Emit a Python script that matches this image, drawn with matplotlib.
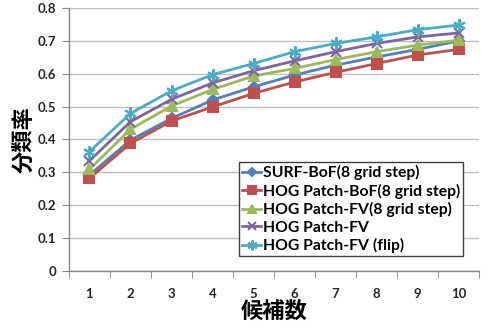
import matplotlib
matplotlib.use("Agg")
import matplotlib.pyplot as plt
from matplotlib.ticker import FixedLocator

plt.rcParams['font.family'] = ['Lato', 'Noto Sans CJK JP', 'DejaVu Sans']

candidates = [1, 2, 3, 4, 5, 6, 7, 8, 9, 10]
surf_bof = [0.292, 0.398, 0.464, 0.520, 0.560, 0.596, 0.626, 0.651, 0.674, 0.700]
hog_bof = [0.282, 0.388, 0.456, 0.499, 0.540, 0.575, 0.604, 0.631, 0.657, 0.674]
hog_fv8 = [0.309, 0.431, 0.502, 0.552, 0.593, 0.616, 0.643, 0.667, 0.687, 0.702]
hog_fv = [0.335, 0.454, 0.522, 0.572, 0.609, 0.639, 0.667, 0.692, 0.712, 0.724]
hog_fv_flip = [0.363, 0.479, 0.548, 0.597, 0.631, 0.667, 0.692, 0.712, 0.734, 0.748]

series = [
    ("SURF-BoF(8 grid step)", surf_bof, "#4F81BD", "D", 5),
    ("HOG Patch-BoF(8 grid step)", hog_bof, "#C0504D", "s", 7),
    ("HOG Patch-FV(8 grid step)", hog_fv8, "#9BBB59", "^", 7),
    ("HOG Patch-FV", hog_fv, "#8064A2", "x", 7),
    ("HOG Patch-FV (flip)", hog_fv_flip, "#4BACC6", (6, 2, 0), 9),
]

fig = plt.figure(figsize=(4.89, 3.32), dpi=100)
ax = fig.add_axes([0.141, 0.184, 0.839, 0.792])

for name, vals, col, mk, ms in series:
    ax.plot(candidates, vals, color=col, lw=2, marker=mk, markersize=ms,
            markeredgecolor=col, markerfacecolor=col, markeredgewidth=1.5, label=name)

ax.set_xlim(0.5, 10.5)
ax.set_ylim(0, 0.8)
ax.set_yticks([i / 10 for i in range(9)])
ax.set_yticklabels(["0"] + ["%.1f" % (i / 10) for i in range(1, 9)])
ax.set_xticks(candidates)
ax.xaxis.set_minor_locator(FixedLocator([i + 0.5 for i in range(0, 11)]))
ax.tick_params(axis='x', which='major', length=0, pad=12)
ax.tick_params(axis='x', which='minor', length=5, color='#868686', direction='out')
ax.tick_params(axis='y', length=5, color='#868686', direction='out', pad=4)
for lab in ax.get_xticklabels() + ax.get_yticklabels():
    lab.set_fontweight('bold')
    lab.set_fontsize(9.5)
    lab.set_color('#262626')

ax.grid(axis='y', color='#BFBFBF', lw=1)
ax.set_axisbelow(True)
for s in ['top', 'right']:
    ax.spines[s].set_visible(False)
for s in ['left', 'bottom']:
    ax.spines[s].set_color('#868686')
    ax.spines[s].set_linewidth(1)

ax.set_xlabel("候補数", fontsize=16, fontweight='bold', labelpad=1)
ax.set_ylabel("分類率", fontsize=16, fontweight='bold', labelpad=2)

leg = ax.legend(loc='lower left', bbox_to_anchor=(0.415, 0.055), fancybox=False,
                edgecolor='#404040', framealpha=1, handlelength=1.2,
                handletextpad=0.1, borderpad=0.2, labelspacing=0.22,
                borderaxespad=0, markerscale=0.8,
                prop={'weight': 'bold', 'size': 11.3})
leg.get_frame().set_linewidth(1)

fig.savefig("out.png", dpi=100)
